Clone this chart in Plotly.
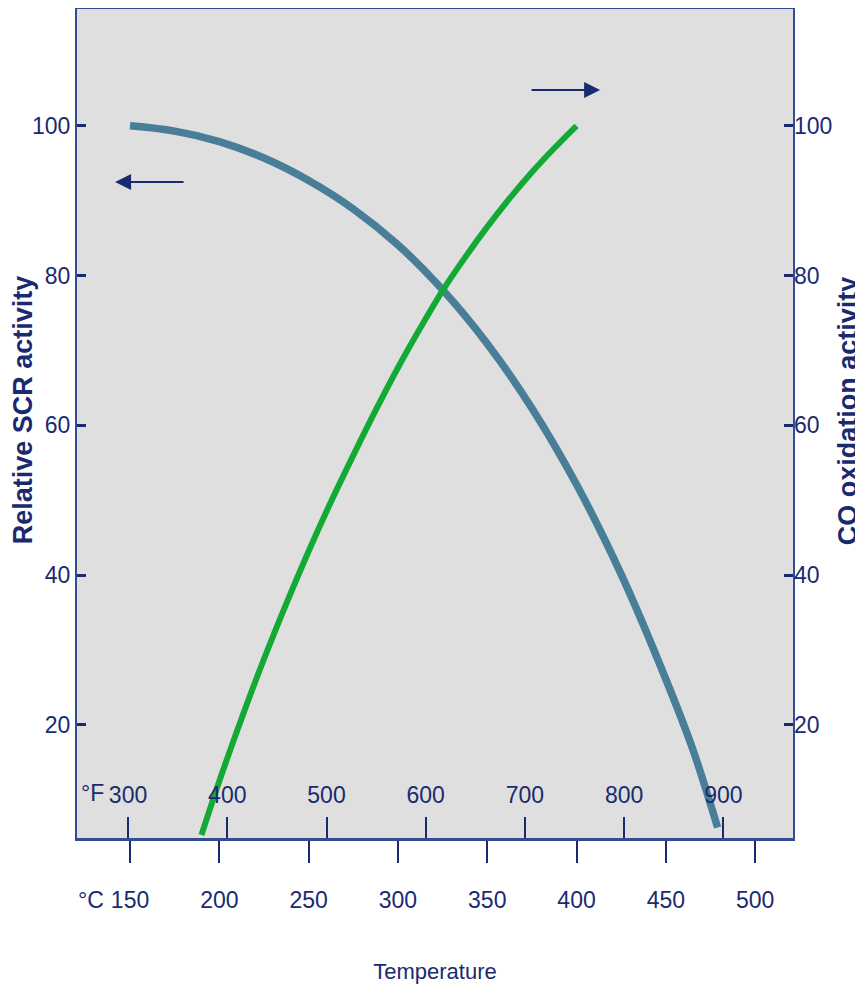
import plotly.graph_objects as go

# ---- data ----
celsius_ticks = [150, 200, 250, 300, 350, 400, 450, 500]
fahrenheit_ticks = [300, 400, 500, 600, 700, 800, 900]
activity_ticks = [20, 40, 60, 80, 100]

scr_temp = [150, 175, 200, 225, 250, 275, 300, 325, 350, 375, 400, 425, 450, 465, 479]
scr_activity = [100, 99.3, 97.9, 95.7, 92.7, 88.9, 84.1, 78.1, 70.9, 62.3, 52.1, 40.1, 26.1, 16.8, 6.3]

co_temp = [190, 200, 212.5, 225, 237.5, 250, 262.5, 275, 287.5, 300, 312.5, 325, 337.5, 350, 362.5, 375, 387.5, 400]
co_activity = [5.3, 12.5, 20.9, 28.8, 36.2, 43.2, 49.8, 56.0, 62.0, 67.7, 73.0, 78.0, 82.4, 86.5, 90.3, 93.8, 97.0, 100]

x_range_c = [120.3, 521.2]
y_range = [4.9, 115.6]

NAVY = "rgb(26,42,112)"
FRAME = "rgb(52,76,146)"
BLUE = "rgb(72,126,152)"
GREEN = "rgb(18,170,52)"
SANS = "Liberation Sans Narrow, Arial Narrow, Liberation Sans, Arial, sans-serif"

fig = go.Figure()

fig.add_trace(go.Scatter(x=scr_temp, y=scr_activity, mode="lines",
                         line=dict(color=BLUE, width=7.5, shape="spline"),
                         showlegend=False, hoverinfo="skip", xaxis="x", yaxis="y"))

fig.add_trace(go.Scatter(x=co_temp, y=co_activity, mode="lines",
                         line=dict(color=GREEN, width=6, shape="spline"),
                         showlegend=False, hoverinfo="skip", xaxis="x", yaxis="y2"))

# invisible trace to anchor the Fahrenheit axis
fig.add_trace(go.Scatter(x=fahrenheit_ticks, y=[None] * len(fahrenheit_ticks), mode="lines",
                         showlegend=False, hoverinfo="skip", xaxis="x2", yaxis="y"))

tick_font = dict(family=SANS, size=23, color=NAVY)
title_font = dict(family="Liberation Sans, Arial, sans-serif", size=27, color=NAVY, weight="bold")

fig.update_layout(
    width=855, height=985,
    margin=dict(l=69, r=70, t=1, b=155, autoexpand=False),
    paper_bgcolor="white",
    plot_bgcolor="rgb(223,223,223)",
    showlegend=False,
    xaxis=dict(
        range=x_range_c, tickmode="array", tickvals=celsius_ticks,
        ticks="outside", ticklen=22, tickwidth=2, tickcolor=NAVY,
        ticklabelstandoff=17,
        showline=True, linecolor=FRAME, linewidth=3, mirror=True,
        showgrid=False, zeroline=False, tickfont=tick_font, automargin=False,
        title=dict(text="Temperature", font=dict(family=SANS, size=22, color=NAVY), standoff=53),
    ),
    xaxis2=dict(
        range=[x_range_c[0] * 1.8 + 32, x_range_c[1] * 1.8 + 32],
        overlaying="x", side="bottom", anchor="y",
        tickmode="array", tickvals=fahrenheit_ticks,
        ticks="inside", ticklen=21, tickwidth=2, tickcolor=NAVY,
        ticklabelposition="inside", ticklabelstandoff=11,
        showline=False, showgrid=False, zeroline=False, tickfont=tick_font, automargin=False,
    ),
    yaxis=dict(
        range=y_range, tickmode="array", tickvals=activity_ticks,
        ticks="inside", ticklen=9, tickwidth=3, tickcolor=NAVY,
        showline=True, linecolor=FRAME, linewidth=2, mirror=True,
        showgrid=False, zeroline=False, tickfont=tick_font, automargin=False,
    ),
    yaxis2=dict(
        range=y_range, overlaying="y", side="right", anchor="x",
        tickmode="array", tickvals=activity_ticks,
        ticks="inside", ticklen=9, tickwidth=3, tickcolor=NAVY,
        showline=False, showgrid=False, zeroline=False, tickfont=tick_font, automargin=False,
    ),
)

# axis titles (vertical)
fig.add_annotation(x=-0.0754, y=0.516, xref="paper", yref="paper", text="Relative SCR activity",
                   textangle=-90, showarrow=False, font=title_font, xanchor="center", yanchor="middle")
fig.add_annotation(x=1.0768, y=0.516, xref="paper", yref="paper", text="CO oxidation activity",
                   textangle=-90, showarrow=False, font=title_font, xanchor="center", yanchor="middle")

# direction arrows
fig.add_annotation(x=141.6, y=92.5, ax=180.8, ay=92.5, xref="x", yref="y", axref="x", ayref="y",
                   text="", showarrow=True, arrowhead=2, arrowsize=1.6, arrowwidth=2, arrowcolor=NAVY)
fig.add_annotation(x=413.2, y=104.8, ax=374.0, ay=104.8, xref="x", yref="y", axref="x", ayref="y",
                   text="", showarrow=True, arrowhead=2, arrowsize=1.6, arrowwidth=2, arrowcolor=NAVY)

# unit prefixes
fig.add_annotation(x=0.022, y=0.054, xref="paper", yref="paper", text="°F", showarrow=False,
                   font=tick_font, xanchor="center", yanchor="middle")
fig.add_annotation(x=0.019, y=-0.075, xref="paper", yref="paper", text="°C", showarrow=False,
                   font=tick_font, xanchor="center", yanchor="middle")

fig.write_html("out.html")
